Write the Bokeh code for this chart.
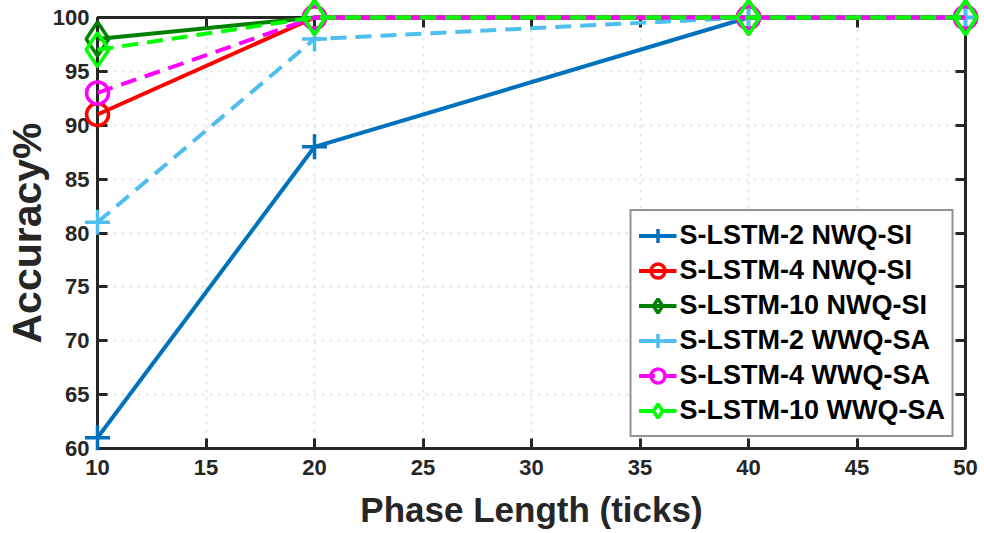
from bokeh.plotting import figure
from bokeh.models import LinearAxis, FixedTicker, Range1d, Legend, LegendItem
from bokeh.embed import file_html
from bokeh.resources import INLINE

# ---- data ----
phase_length = [10, 20, 40, 50]
s2_nwq_si = [61, 88, 100, 100]
s4_nwq_si = [91, 100, 100, 100]
s10_nwq_si = [98, 100, 100, 100]
s2_wwq_sa = [81, 98, 100, 100]
s4_wwq_sa = [93, 100, 100, 100]
s10_wwq_sa = [97, 100, 100, 100]

series_labels = ["S-LSTM-2 NWQ-SI", "S-LSTM-4 NWQ-SI", "S-LSTM-10 NWQ-SI",
                 "S-LSTM-2 WWQ-SA", "S-LSTM-4 WWQ-SA", "S-LSTM-10 WWQ-SA"]
series_values = [s2_nwq_si, s4_nwq_si, s10_nwq_si, s2_wwq_sa, s4_wwq_sa, s10_wwq_sa]

x_ticks = [10, 15, 20, 25, 30, 35, 40, 45, 50]
y_ticks = [60, 65, 70, 75, 80, 85, 90, 95, 100]

# ---- styles ----
colors = ["#0072BD", "#FF0000", "#008000", "#4DBEEE", "#FF00FF", "#00FF00"]
dashes = ["solid", "solid", "solid", "16 9", "16 9", "16 9"]
markers = ["cross", "circle", "diamond", "cross", "circle", "diamond"]
msizes = [25, 22, 34, 25, 22, 34]

FONT = "Liberation Sans"
AX = "#262626"

p = figure(width=984, height=533, output_backend="svg", toolbar_location=None,
           x_range=Range1d(10, 50), y_range=Range1d(60, 100),
           min_border_left=96, min_border_right=19, min_border_top=17,
           min_border_bottom=85)
p.background_fill_color = "white"
p.border_fill_color = "white"
p.outline_line_color = AX
p.outline_line_width = 2.5

# bottom & left axes
for ax, ticks in ((p.xaxis[0], x_ticks), (p.yaxis[0], y_ticks)):
    ax.ticker = FixedTicker(ticks=ticks)
    ax.axis_line_color = AX
    ax.axis_line_width = 3
    ax.major_tick_line_color = AX
    ax.major_tick_line_width = 3
    ax.major_tick_in = 10
    ax.major_tick_out = 0
    ax.minor_tick_line_color = None
    ax.major_label_text_font = FONT
    ax.major_label_text_font_style = "bold"
    ax.major_label_text_font_size = "22px"
    ax.major_label_text_color = AX
    ax.axis_label_text_font = FONT
    ax.axis_label_text_font_style = "bold"
    ax.axis_label_text_color = AX

p.xaxis.axis_label = "Phase Length (ticks)"
p.xaxis.axis_label_text_font_size = "35px"
p.xaxis.major_label_standoff = 11
p.xaxis.axis_label_standoff = 12
p.yaxis.axis_label = "Accuracy%"
p.yaxis.axis_label_text_font_size = "41px"
p.yaxis.major_label_standoff = 8
p.yaxis.axis_label_standoff = 0

# top & right axes (ticks only, closing the box)
for loc, ticks in (("above", x_ticks), ("right", y_ticks)):
    ax = LinearAxis(ticker=FixedTicker(ticks=ticks))
    ax.axis_line_color = AX
    ax.axis_line_width = 3
    ax.major_tick_line_color = AX
    ax.major_tick_line_width = 3
    ax.major_tick_in = 10
    ax.major_tick_out = 0
    ax.minor_tick_line_color = None
    ax.major_label_overrides = {t: "" for t in ticks}
    ax.major_label_text_font_size = "8px"
    ax.major_label_standoff = 0
    p.add_layout(ax, loc)

# grid
for g, ticks in ((p.xgrid[0], x_ticks), (p.ygrid[0], y_ticks)):
    g.ticker = FixedTicker(ticks=ticks)
    g.grid_line_color = "#e6e6e6"
    g.grid_line_width = 2
    g.grid_line_dash = "3 5"

items = []
for lab, vals, c, d, m, s in zip(series_labels, series_values, colors, dashes, markers, msizes):
    r1 = p.line(phase_length, vals, line_color=c, line_width=4, line_dash=d, level="overlay")
    r2 = p.scatter(phase_length, vals, marker=m, size=s, line_color=c, line_width=3.5,
                   fill_color=None, level="overlay")
    items.append(LegendItem(label=lab, renderers=[r1, r2]))

legend = Legend(items=items, location="bottom_right")
legend.margin = 11
legend.padding = 7
legend.spacing = 0
legend.glyph_height = 35
legend.glyph_width = 38
legend.label_height = 35
legend.label_standoff = 3
legend.label_text_font = FONT
legend.label_text_font_style = "bold"
legend.label_text_font_size = "27px"
legend.label_text_color = "black"
legend.border_line_color = AX
legend.border_line_width = 2.5
legend.background_fill_color = "white"
legend.background_fill_alpha = 1.0
p.add_layout(legend, "center")

open("out.html", "w").write(file_html(p, INLINE))
